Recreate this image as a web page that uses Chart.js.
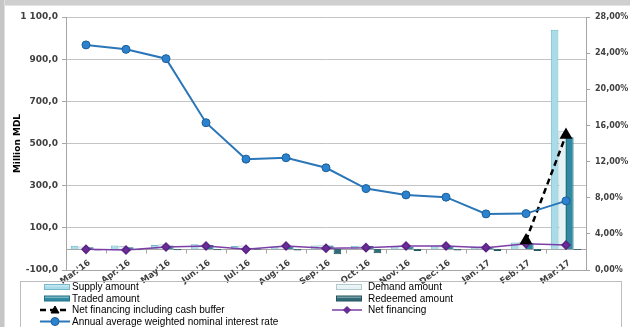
<!DOCTYPE html>
<html>
<head>
<meta charset="utf-8">
<script src="https://cdn.jsdelivr.net/npm/chart.js@4/dist/chart.umd.min.js"></script>
<style>
  html, body { margin: 0; padding: 0; background: #fff; }
  #wrap { position: relative; width: 630px; height: 327px; overflow: hidden; }
  canvas { position: absolute; left: 0; top: 0; }
</style>
</head>
<body>
<div id="wrap"><canvas id="c" width="630" height="327"></canvas></div>
<script>
// Months of the auction period
const categories = ["Mar.'16", "Apr.'16", "May'16", "Jun.'16", "Jul.'16", "Aug.'16", "Sep.'16",
                    "Oct.'16", "Nov.'16", "Dec.'16", "Jan.'17", "Feb.'17", "Mar.'17"];

// Amounts, million MDL (left axis)
const supplyAmount   = [15, 16, 18, 22, 14, 12, 16, 15, 12, 16, 12, 30, 1040];
const demandAmount   = [12, 14, 22, 20, 16, 14, 20, 16, 16, 20, 14, 34, 560];
const tradedAmount   = [8, 8, 16, 18, 6, 14, 16, 14, 10, 14, 8, 28, 530];
const redeemedAmount = [-8, -6, -6, -6, -4, -8, -25, -20, -10, -8, -10, -10, -5];
const netFinancingCashBuffer = [null, null, null, null, null, null, null, null, null, null, null, 40, 540];
const netFinancing   = [-2, -5, 9, 14, -2, 14, 3, 6, 14, 14, 6, 25, 18];

// Annual average weighted nominal interest rate, % (right axis)
const interestRate = [24.91, 24.42, 23.39, 16.30, 12.27, 12.42, 11.31, 9.01, 8.31, 8.06, 6.21, 6.24, 7.65];

// Axis ranges
const leftAxis  = { min: -100, max: 1100, step: 200 };
const rightAxis = { min: 0, max: 28, step: 4 };

const TICK_FONT = { family: "DejaVu Sans", size: 9, weight: "bold" };
const LEGEND_FONT = "10px 'Liberation Sans', Arial, sans-serif";
const XLABEL_FONT = "bold 8.5px 'DejaVu Sans', sans-serif";
const XLABEL_ANGLE = -36 * Math.PI / 180;

function fmtLeft(v) {
  const s = Math.abs(v).toFixed(1).split('.');
  const int = s[0].replace(/\B(?=(\d{3})+(?!\d))/g, ' ');
  return (v < 0 ? '-' : '') + int + ',' + s[1];
}
function fmtRight(v) { return v.toFixed(2).replace('.', ',') + '%'; }

// Frame, zero axis line with tick marks, slanted month labels and the boxed legend
const decor = {
  id: 'decor',
  beforeDraw(chart) {
    const c = chart.ctx;
    c.save();
    c.fillStyle = '#fff';
    c.fillRect(0, 0, chart.width, chart.height);
    c.fillStyle = '#cfcfcf'; c.fillRect(0, 0, chart.width, 5);
    c.fillStyle = '#e4e4e4'; c.fillRect(0, 5, chart.width, 1);
    c.fillStyle = '#c6c6c6'; c.fillRect(0, 0, 4, chart.height);
    c.fillStyle = '#e0e0e0'; c.fillRect(4, 0, 1, chart.height);
    c.restore();
  },
  beforeDatasetsDraw(chart) {
    const c = chart.ctx, y = chart.scales.y;
    const y0 = Math.round(y.getPixelForValue(0)) + 0.5;
    c.save();
    c.strokeStyle = '#a6a6a6';
    c.lineWidth = 1;
    c.beginPath();
    c.moveTo(chart.chartArea.left, y0);
    c.lineTo(chart.chartArea.right, y0);
    const step = (chart.chartArea.right - chart.chartArea.left) / categories.length;
    for (let i = 1; i < categories.length; i++) {
      const px = Math.round(chart.chartArea.left + i * step) + 0.5;
      c.moveTo(px, y0); c.lineTo(px, y0 + 4);
    }
    c.stroke();
    c.restore();
  },
  afterDraw(chart) {
    const c = chart.ctx, x = chart.scales.x;
    c.save();
    // month labels
    c.font = XLABEL_FONT;
    c.fillStyle = '#404040';
    c.textAlign = 'right';
    c.textBaseline = 'middle';
    categories.forEach((lab, i) => {
      const px = x.getPixelForTick(i);
      c.save();
      c.translate(px + 3.5, chart.chartArea.bottom - 8);
      c.rotate(XLABEL_ANGLE);
      c.fillText(lab, 0, 0);
      c.restore();
    });
    // legend box
    c.strokeStyle = '#bdbdbd';
    c.lineWidth = 1;
    c.strokeRect(20.5, 281.5, 601, 50);
    const ds = chart.data.datasets;
    const cols = [{ sx: 44, tx: 72 }, { sx: 336, tx: 368 }];
    const rows = [287, 298.5, 310, 321.5];
    const place = [[0, 0], [1, 0], [0, 1], [1, 1], [0, 2], [1, 2], [0, 3]];
    ds.forEach((d, i) => {
      const [col, row] = place[i];
      const sx = cols[col].sx, tx = cols[col].tx, yy = rows[row];
      if (d.type === 'bar') {
        c.fillStyle = d.backgroundColor;
        c.strokeStyle = d.borderColor;
        c.fillRect(sx, yy - 2.5, 26, 5);
        c.strokeRect(sx + 0.5, yy - 2.5, 25, 5);
        c.fillStyle = 'rgba(255,255,255,0.35)';
        c.fillRect(sx + 1, yy - 2, 24, 1.5);
      } else {
        c.strokeStyle = d.borderColor;
        c.lineWidth = d.borderWidth;
        c.setLineDash(d.borderDash || []);
        c.beginPath(); c.moveTo(sx - 4, yy); c.lineTo(sx + 26, yy); c.stroke();
        c.setLineDash([]);
        const mx = sx + 11;
        c.fillStyle = d.pointBackgroundColor;
        c.strokeStyle = d.pointBorderColor;
        c.lineWidth = 1;
        c.beginPath();
        if (d.pointStyle === 'triangle') {
          c.moveTo(mx, yy - 4); c.lineTo(mx + 4, yy + 3); c.lineTo(mx - 4, yy + 3); c.closePath();
        } else if (d.pointStyle === 'rectRot') {
          c.moveTo(mx, yy - 3.5); c.lineTo(mx + 3.5, yy); c.lineTo(mx, yy + 3.5); c.lineTo(mx - 3.5, yy); c.closePath();
        } else {
          c.arc(mx, yy, 4, 0, Math.PI * 2);
        }
        c.fill(); c.stroke();
      }
      c.fillStyle = '#000';
      c.font = LEGEND_FONT;
      c.textBaseline = 'middle';
      c.textAlign = 'left';
      c.fillText(d.label, tx, yy + 0.5);
    });
    c.restore();
  }
};

new Chart(document.getElementById('c'), {
  data: {
    labels: categories,
    datasets: [
      { type: 'bar', label: 'Supply amount', data: supplyAmount, yAxisID: 'y',
        backgroundColor: '#a9dbe8', borderColor: '#74b9cc', borderWidth: 1, order: 5 },
      { type: 'bar', label: 'Demand amount', data: demandAmount, yAxisID: 'y',
        backgroundColor: '#e6f2f4', borderColor: '#b0c9cf', borderWidth: 1, order: 5 },
      { type: 'bar', label: 'Traded amount', data: tradedAmount, yAxisID: 'y',
        backgroundColor: '#2f8aa2', borderColor: '#236f84', borderWidth: 1, order: 5 },
      { type: 'bar', label: 'Redeemed amount', data: redeemedAmount, yAxisID: 'y',
        backgroundColor: '#2f6b78', borderColor: '#24525c', borderWidth: 1, order: 5 },
      { type: 'line', label: 'Net financing including cash buffer', data: netFinancingCashBuffer, yAxisID: 'y',
        borderColor: '#000', borderWidth: 2.5, borderDash: [6, 4], pointStyle: 'triangle',
        pointRadius: 5, pointBackgroundColor: '#000', pointBorderColor: '#000', spanGaps: false, order: 1 },
      { type: 'line', label: 'Net financing', data: netFinancing, yAxisID: 'y',
        borderColor: '#7b3ea6', borderWidth: 1.5, pointStyle: 'rectRot', pointRadius: 4,
        pointBackgroundColor: '#6a2c98', pointBorderColor: '#5a2384', order: 2 },
      { type: 'line', label: 'Annual average weighted nominal interest rate', data: interestRate, yAxisID: 'y1',
        borderColor: '#2a76b8', borderWidth: 2, pointStyle: 'circle', pointRadius: 4,
        pointBackgroundColor: '#2b83cf', pointBorderColor: '#1c5f9a', pointBorderWidth: 1, order: 0 }
    ]
  },
  options: {
    responsive: false,
    animation: false,
    devicePixelRatio: 1,
    layout: { padding: { left: 4, right: 0, top: 17, bottom: 12 } },
    plugins: { legend: { display: false }, tooltip: { enabled: false } },
    datasets: { bar: { categoryPercentage: 0.76, barPercentage: 1.0 } },
    scales: {
      x: {
        grid: { display: false, drawTicks: false },
        border: { display: true, color: '#a6a6a6' },
        ticks: { display: false },
        afterFit(s) { s.height = 45; }
      },
      y: {
        position: 'left',
        min: leftAxis.min, max: leftAxis.max,
        grid: { color: '#c4c4c4', tickLength: 4, tickColor: '#a6a6a6' },
        border: { color: '#a6a6a6' },
        ticks: { stepSize: leftAxis.step, font: TICK_FONT, color: '#404040', padding: 4, callback: v => fmtLeft(v) },
        title: { display: true, text: 'Million MDL', font: { family: 'DejaVu Sans', size: 9, weight: 'bold' }, color: '#000', padding: { top: 8, bottom: 0 } },
        afterFit(s) { s.width = 62; }
      },
      y1: {
        position: 'right',
        min: rightAxis.min, max: rightAxis.max,
        grid: { drawOnChartArea: false, tickLength: 4, tickColor: '#a6a6a6' },
        border: { color: '#a6a6a6' },
        ticks: { stepSize: rightAxis.step, font: { family: 'DejaVu Sans', size: 8, weight: 'bold' }, color: '#404040', padding: 5, callback: v => fmtRight(v) },
        afterFit(s) { s.width = 44; }
      }
    }
  },
  plugins: [decor]
});
</script>
</body>
</html>
